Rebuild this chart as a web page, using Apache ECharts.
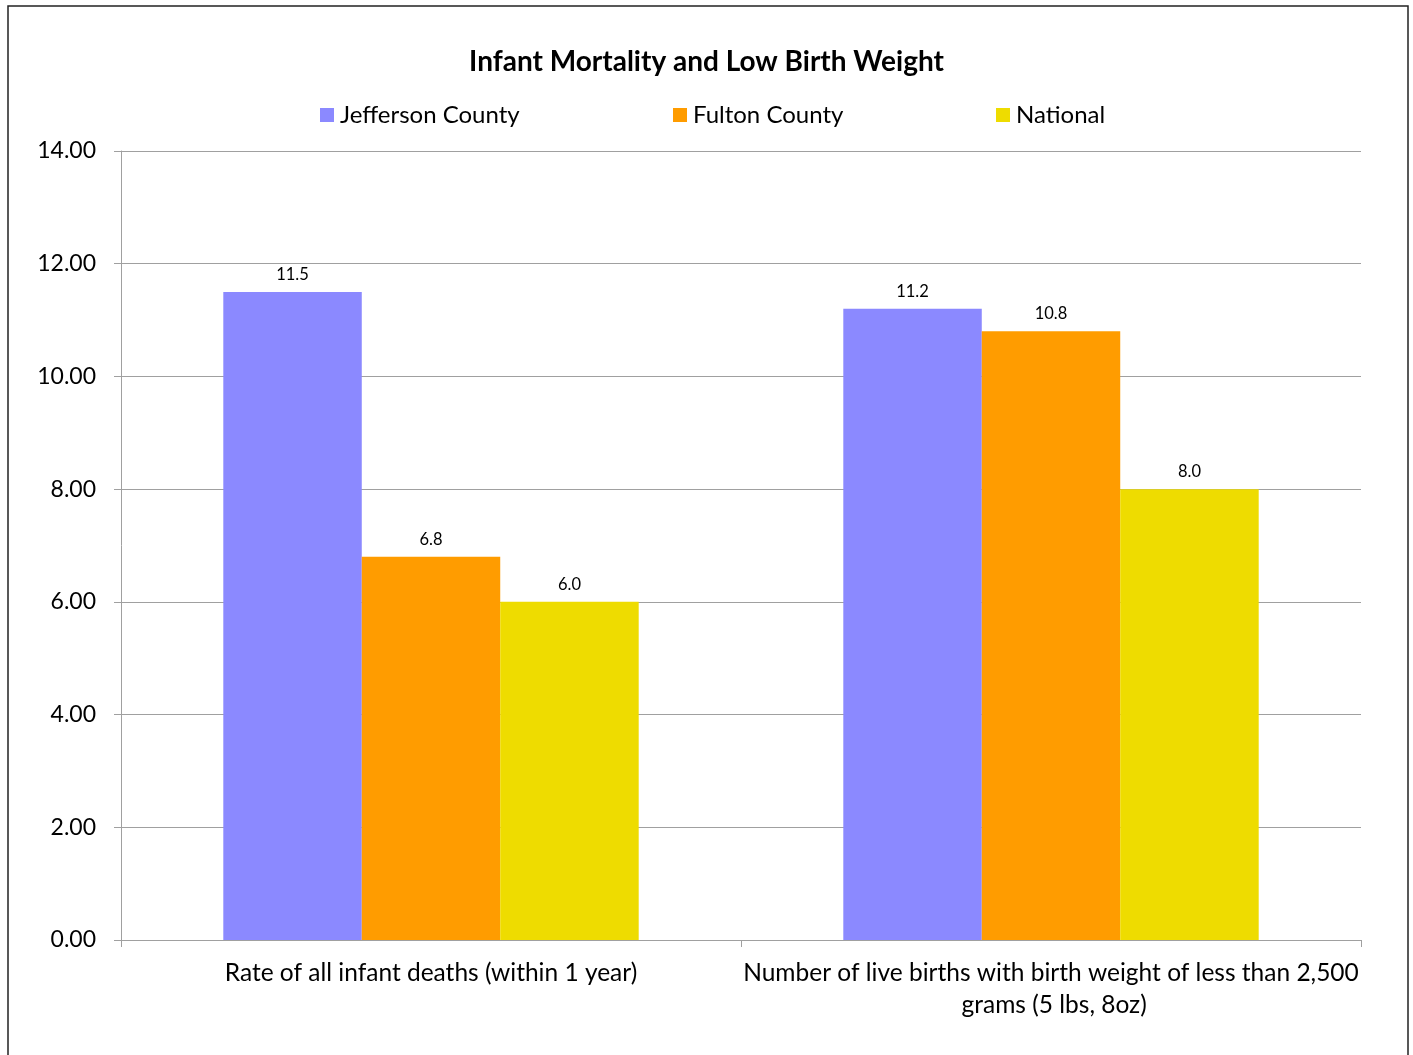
<!DOCTYPE html>
<html>
<head>
<meta charset="utf-8">
<script src="https://cdn.jsdelivr.net/npm/echarts@6/dist/echarts.min.js"></script>
<style>
html,body{margin:0;padding:0;background:#fff;}
#chart{width:1413px;height:1055px;}
</style>
</head>
<body>
<div id="chart"></div>
<script>
const categories = ["Rate of all infant deaths (within 1 year)", "Number of live births with birth weight of less than 2,500 grams (5 lbs, 8oz)"];
const seriesNames = ["Jefferson County", "Fulton County", "National"];
const jefferson = [11.5, 11.2];
const fulton = [6.8, 10.8];
const national = [6.0, 8.0];
const yTicks = { min: 0, max: 14, interval: 2 };

const colors = ["#8B89FF", "#FF9C00", "#EEDC00"];
const FONT = "Lato";
const chart = echarts.init(document.getElementById('chart'), null, {renderer: 'canvas'});
const values = [jefferson, fulton, national];
const legendLefts = [320, 673, 996];

chart.setOption({
  animation: false,
  textStyle: { fontFamily: FONT },
  title: {
    text: "Infant Mortality and Low Birth Weight",
    left: 'center', top: 43,
    textStyle: { fontFamily: FONT, fontWeight: 'bold', fontSize: 28, color: '#000' }
  },
  graphic: [{
    type: 'rect', silent: true,
    shape: { x: 8, y: 6, width: 1400, height: 1060 },
    style: { fill: 'none', stroke: '#222', lineWidth: 1.5 }
  }],
  legend: seriesNames.map((n, i) => ({
    data: [n], left: legendLefts[i], top: 103, padding: 0,
    itemWidth: 14, itemHeight: 14, itemGap: 5,
    icon: 'rect',
    textStyle: { fontFamily: FONT, fontSize: 24, color: '#000', padding: [0,0,0,1] }
  })),
  grid: { left: 121, right: 52, top: 151, bottom: 115, containLabel: false },
  xAxis: {
    type: 'category', data: categories,
    axisLine: { lineStyle: { color: '#a0a0a0', width: 1 } },
    axisTick: { show: true, length: 7, lineStyle: { color: '#a0a0a0' } },
    axisLabel: {
      color: '#000', fontSize: 24.5, fontFamily: FONT, margin: 17, lineHeight: 32,
      width: 620, overflow: 'break', interval: 0
    }
  },
  yAxis: {
    type: 'value', min: yTicks.min, max: yTicks.max, interval: yTicks.interval,
    axisLine: { show: true, lineStyle: { color: '#a0a0a0', width: 1 } },
    axisTick: { show: true, length: 7, lineStyle: { color: '#a0a0a0' } },
    splitLine: { show: true, lineStyle: { color: '#a0a0a0', width: 1 } },
    axisLabel: { color: '#000', fontSize: 23, fontFamily: FONT, margin: 25, formatter: v => v.toFixed(2) }
  },
  series: seriesNames.map((n, i) => ({
    name: n, type: 'bar', data: values[i],
    barGap: '0%', barCategoryGap: '33%',
    itemStyle: { color: colors[i] },
    label: { show: true, position: 'top', distance: 9, color: '#000', fontSize: 16.5, fontFamily: FONT,
      formatter: p => p.value.toFixed(1) }
  }))
});
</script>
</body>
</html>
